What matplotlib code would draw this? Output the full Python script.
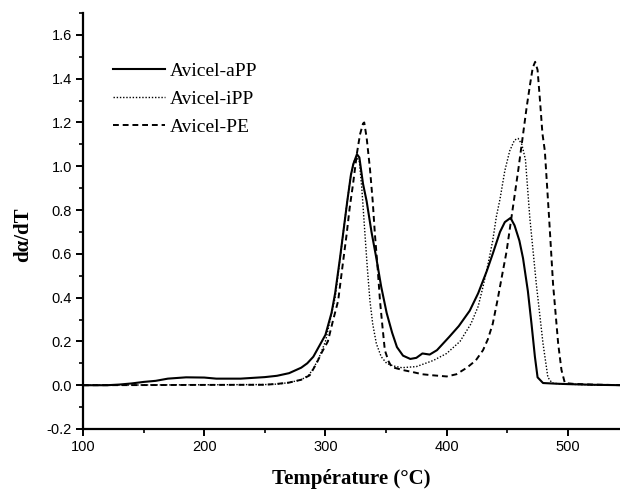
import numpy as np
import matplotlib
matplotlib.use("Agg")
import matplotlib.pyplot as plt
from matplotlib.ticker import MultipleLocator, FormatStrFormatter

# Avicel-aPP (solid)
t_app = [100, 120, 130, 140, 150, 160, 170, 185, 200, 210, 230, 250, 260, 270, 280, 285,
         290, 295, 300, 305, 308, 312, 315, 318, 321, 323, 326, 328, 331, 334, 338, 342,
         346, 350.5, 355, 359, 364, 370, 375, 380, 386, 392, 402, 410, 419, 426, 433, 438,
         444, 448, 452.7, 456, 460, 463, 467, 470, 472.8, 475, 479.5, 490, 500, 520, 545]
y_app = [0, 0, 0.003, 0.008, 0.015, 0.02, 0.03, 0.036, 0.035, 0.03, 0.03, 0.037, 0.043, 0.055, 0.08, 0.1,
         0.13, 0.18, 0.23, 0.33, 0.42, 0.58, 0.71, 0.84, 0.96, 1.01, 1.055, 1.04, 0.92, 0.84, 0.7, 0.58,
         0.45, 0.33, 0.24, 0.174, 0.135, 0.12, 0.125, 0.145, 0.14, 0.16, 0.22, 0.27, 0.34, 0.42, 0.52, 0.6,
         0.70, 0.745, 0.764, 0.73, 0.66, 0.58, 0.43, 0.28, 0.13, 0.036, 0.01, 0.007, 0.005, 0.002, 0]

# Avicel-iPP (dotted)
t_ipp = [100, 250, 260, 270, 280, 286, 290, 295, 300, 304, 308, 311, 314.5, 318, 321, 324,
         326, 328, 330, 332.6, 334.5, 336.7, 339, 342, 346, 350.5, 356, 363, 375, 389, 400,
         411, 420, 426, 430, 434, 438, 441, 444, 448, 452, 456, 459, 462, 465, 468.6, 474,
         479.5, 483.5, 487, 495, 520, 545]
y_ipp = [0, 0.003, 0.005, 0.012, 0.025, 0.045, 0.075, 0.13, 0.2, 0.3, 0.4, 0.53, 0.69, 0.84, 0.96, 1.03,
         1.04, 1.02, 0.9, 0.69, 0.54, 0.386, 0.28, 0.19, 0.13, 0.1, 0.088, 0.08, 0.085, 0.113, 0.145,
         0.2, 0.28, 0.36, 0.45, 0.55, 0.66, 0.77, 0.85, 0.98, 1.07, 1.12, 1.127, 1.1, 1.03, 0.765, 0.46,
         0.19, 0.036, 0.01, 0.005, 0.002, 0]

# Avicel-PE (dashed)
t_pe = [100, 250, 260, 270, 280, 287, 292.7, 297, 302, 306, 310.5, 314, 317.5, 320, 322.8, 326,
        328.5, 331, 332, 334, 336.7, 339, 340.8, 343, 345, 347, 349, 352, 354.6, 360, 365, 372,
        380, 389, 400, 408, 416.7, 424, 430, 434, 438, 442, 446, 449.4, 454.6, 459, 463, 466,
        468.7, 471, 473, 475, 477, 479, 481, 484.5, 487.8, 492, 494.7, 497.5, 505, 520, 545]
y_pe = [0, 0.002, 0.006, 0.012, 0.025, 0.045, 0.1, 0.15, 0.2, 0.29, 0.386, 0.54, 0.69, 0.81, 0.92, 1.06,
        1.145, 1.195, 1.2, 1.13, 0.99, 0.84, 0.69, 0.54, 0.386, 0.27, 0.16, 0.11, 0.083, 0.075, 0.068, 0.06,
        0.05, 0.045, 0.04, 0.05, 0.08, 0.113, 0.16, 0.21, 0.28, 0.39, 0.51, 0.61, 0.81, 0.98, 1.145, 1.27,
        1.37, 1.45, 1.477, 1.44, 1.3, 1.15, 1.07, 0.765, 0.46, 0.19, 0.07, 0.01, 0.006, 0.003, 0]

fig = plt.figure(figsize=(6.2, 4.96), dpi=100)
ax = fig.add_axes([83 / 620, 1 - 429 / 496, 537 / 620, 416 / 496])

ax.plot(t_app, y_app, color='black', lw=1.5, ls='-', label='Avicel-aPP')
ax.plot(t_ipp, y_ipp, color='black', lw=1.0, ls=(0, (1, 1.3)), label='Avicel-iPP')
ax.plot(t_pe, y_pe, color='black', lw=1.4, ls=(0, (3, 2)), label='Avicel-PE')

ax.set_xlim(100, 543)
ax.set_ylim(-0.2, 1.7)
ax.xaxis.set_major_locator(MultipleLocator(100))
ax.xaxis.set_minor_locator(MultipleLocator(50))
ax.yaxis.set_major_locator(MultipleLocator(0.2))
ax.yaxis.set_minor_locator(MultipleLocator(0.1))
ax.yaxis.set_major_formatter(FormatStrFormatter('%.1f'))

for s in ['top', 'right']:
    ax.spines[s].set_visible(False)
for s in ['left', 'bottom']:
    ax.spines[s].set_linewidth(1.6)

ax.tick_params(which='major', direction='out', length=5, width=1.4,
               labelsize=10.5, pad=3)
ax.tick_params(which='minor', direction='out', length=3, width=1.2)
for lab in ax.get_xticklabels() + ax.get_yticklabels():
    lab.set_family('Liberation Sans')

ax.set_xlabel('Température (°C)', family='Liberation Serif', fontweight='bold', fontsize=15)
ax.set_ylabel('dα/dT', family='Liberation Serif', fontweight='bold', fontsize=15)
ax.xaxis.set_label_coords(0.5, -0.095)
ax.yaxis.set_label_coords(-0.092, 0.466)

leg = ax.legend(loc='upper left', bbox_to_anchor=(0.056, 0.882), frameon=False,
                prop={'family': 'Liberation Serif', 'size': 14},
                handlelength=2.68, handletextpad=0.26, labelspacing=0.53, borderpad=0,
                borderaxespad=0)

fig.savefig('out.png', dpi=100)
